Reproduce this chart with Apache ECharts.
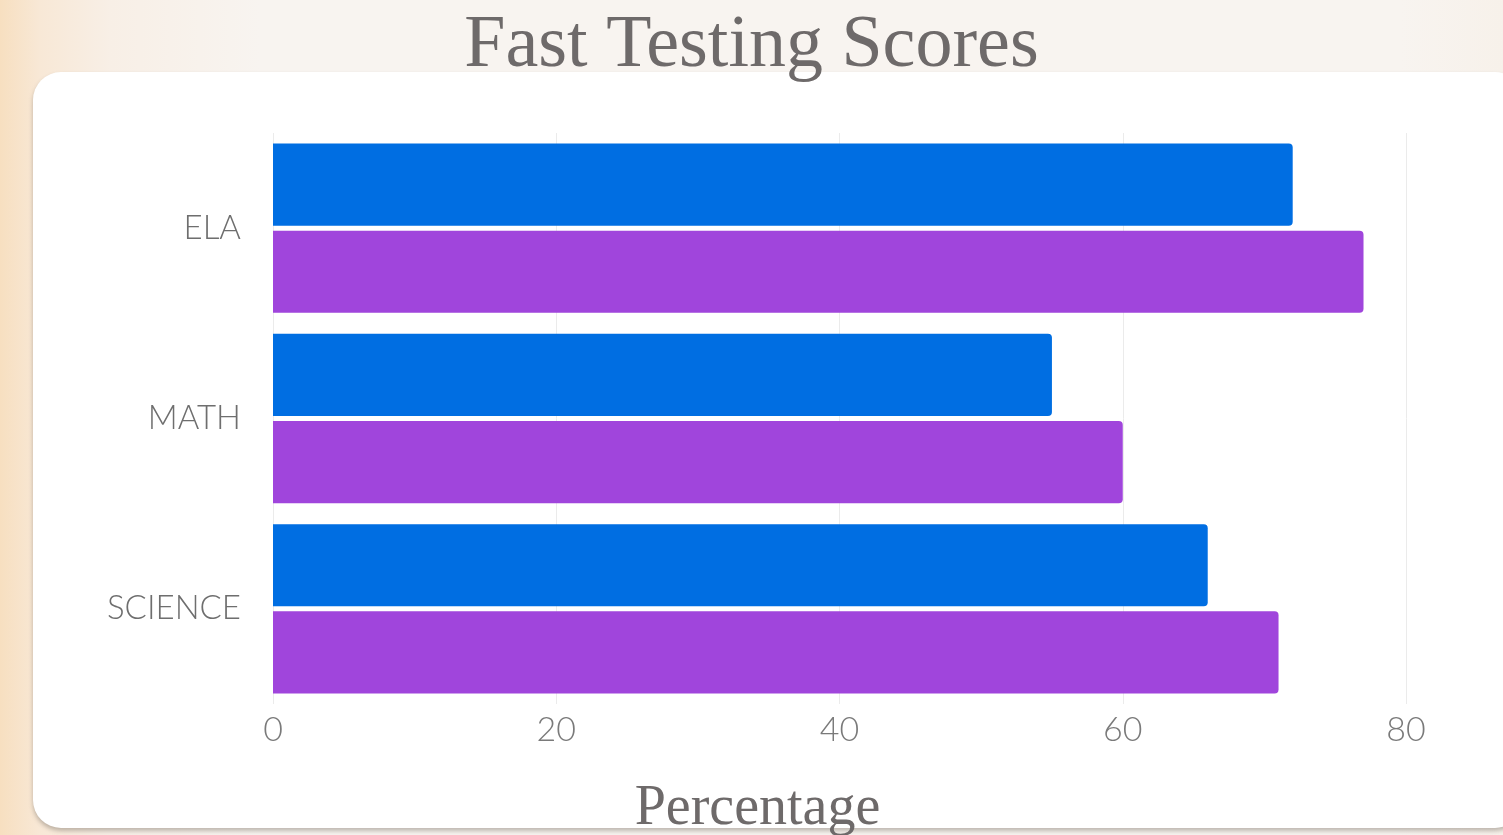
<!DOCTYPE html>
<html>
<head>
<meta charset="utf-8">
<script src="https://cdn.jsdelivr.net/npm/echarts@6/dist/echarts.min.js"></script>
<style>
  html, body { margin: 0; padding: 0; width: 1503px; height: 835px; overflow: hidden; }
  body { background: linear-gradient(90deg, #f7dfc0 0px, #f8e8d6 40px, #f8efe6 110px, #f8f4f0 260px, #f8f4f0 1400px, #f7f1ea 1503px); position: relative; }
  #card { position: absolute; left: 33px; top: 72px; width: 1490px; height: 756px; background: #fff; border-radius: 28px; box-shadow: 0 3px 4px rgba(120,110,100,0.45); }
  #chart { position: absolute; left: 0; top: 0; width: 1503px; height: 835px; }
</style>
</head>
<body>
<div id="card"></div>
<div id="chart"></div>
<script>
const categories = ['ELA', 'MATH', 'SCIENCE'];
const seriesA = [72, 55, 66];
const seriesB = [77, 60, 71];
const xTicks = { min: 0, max: 80, interval: 20 };
const titleText = 'Fast Testing Scores';
const xAxisName = 'Percentage';

const chart = echarts.init(document.getElementById('chart'), null, { renderer: 'canvas' });
chart.setOption({
  backgroundColor: 'transparent',
  animation: false,
  title: {
    text: titleText,
    left: 'center',
    top: 5,
    textStyle: { fontFamily: 'Liberation Serif', fontWeight: 'normal', fontSize: 74, color: '#6e6a6a' }
  },
  grid: { left: 273, right: 97, top: 133, bottom: 131, containLabel: false, outerBoundsMode: 'none' },
  xAxis: {
    type: 'value',
    min: xTicks.min, max: xTicks.max, interval: xTicks.interval,
    name: xAxisName,
    nameLocation: 'middle',
    nameGap: 77,
    nameTextStyle: { fontFamily: 'Liberation Serif', fontSize: 56, color: '#6e6a6a', padding: [0, 164, 0, 0] },
    axisLine: { show: false },
    axisTick: { show: false },
    axisLabel: { margin: 9, fontFamily: 'Lato', fontWeight: 300, fontSize: 34, color: '#7a7a7a' },
    splitLine: { show: true, lineStyle: { color: '#ebebeb', width: 1 } }
  },
  yAxis: {
    type: 'category',
    data: categories,
    inverse: true,
    axisLine: { show: false },
    axisTick: { show: false },
    axisLabel: { margin: 32, fontFamily: 'Lato', fontWeight: 300, fontSize: 33, color: '#6e6e6e' },
    splitLine: { show: false }
  },
  series: [
    {
      type: 'bar', data: seriesA, barGap: '6%', barCategoryGap: '11%',
      itemStyle: { color: '#006ee2', borderRadius: [0, 4, 4, 0] }
    },
    {
      type: 'bar', data: seriesB, barGap: '6%', barCategoryGap: '11%',
      itemStyle: { color: '#a045dc', borderRadius: [0, 4, 4, 0] }
    }
  ]
});
</script>
</body>
</html>
